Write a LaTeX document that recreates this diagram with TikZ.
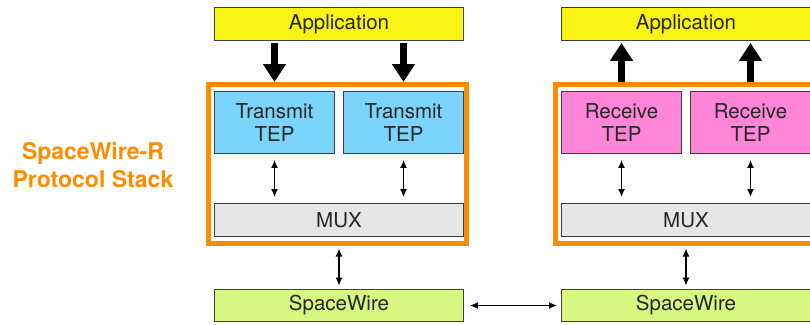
\documentclass[tikz,border=0pt]{standalone}
\usepackage{fontspec}
\setmainfont{TeX Gyre Heros}
\usetikzlibrary{arrows.meta}
\definecolor{appyellow}{RGB}{250,244,20}
\definecolor{txblue}{RGB}{122,212,252}
\definecolor{rxpink}{RGB}{255,134,214}
\definecolor{muxgray}{RGB}{230,230,230}
\definecolor{spwgreen}{RGB}{214,248,128}
\definecolor{swrorange}{RGB}{255,140,0}
\begin{document}
\begin{tikzpicture}[x=1pt,y=-1pt,
  box/.style={draw=black!75,line width=1.3pt,inner sep=0pt,align=center,text=black!85,font=\fontsize{20.5}{23.5}\selectfont},
  wide/.style={box,minimum width=248.5pt,minimum height=32.5pt},
  tep/.style={box,minimum width=119.5pt,minimum height=61.5pt},
  stack/.style={draw=swrorange,line width=5pt,inner sep=0pt,minimum width=258pt,minimum height=158.5pt},
  fat/.style={line width=7pt,-{Triangle[width=22pt,length=18pt]}},
  link/.style={line width=1.4pt,{Latex[length=8pt,width=7pt]}-{Latex[length=8pt,width=7pt]}}]
\useasboundingbox (0,0) rectangle (810,324);
\clip (0,0) rectangle (810,324);
\node[text=swrorange,align=center,font=\fontsize{23}{28}\selectfont\bfseries] (lbl) at (93,165) {SpaceWire-R\\Protocol Stack};
\node[stack] (frmL) at (337.5,163.75) {};
\node[stack] (frmR) at (684.5,163.75) {};
\node[wide,fill=appyellow] (appL) at (339,24) {Application};
\node[wide,fill=appyellow] (appR) at (686,24) {Application};
\node[tep,fill=txblue] (tepL1) at (274.5,122.5) {Transmit\\TEP};
\node[tep,fill=txblue] (tepL2) at (403.5,122.5) {Transmit\\TEP};
\node[tep,fill=rxpink] (tepR1) at (621.5,122.5) {Receive\\TEP};
\node[tep,fill=rxpink] (tepR2) at (750.5,122.5) {Receive\\TEP};
\node[wide,fill=muxgray] (muxL) at (339,220) {MUX};
\node[wide,fill=muxgray] (muxR) at (686,220) {MUX};
\node[wide,fill=spwgreen] (spwL) at (339,305.5) {SpaceWire};
\node[wide,fill=spwgreen] (spwR) at (686,305.5) {SpaceWire};
\draw[fat,shorten <=2pt] (appL.south -| tepL1.north) -- (frmL.north -| tepL1.north);
\draw[fat,shorten <=2pt] (appL.south -| tepL2.north) -- (frmL.north -| tepL2.north);
\draw[fat,shorten >=2pt] (frmR.north -| tepR1.north) -- (appR.south -| tepR1.north);
\draw[fat,shorten >=2pt] (frmR.north -| tepR2.north) -- (appR.south -| tepR2.north);
\draw[link,shorten <=6pt,shorten >=6pt] (tepL1.south) -- (tepL1.south |- muxL.north);
\draw[link,shorten <=6pt,shorten >=6pt] (tepL2.south) -- (tepL2.south |- muxL.north);
\draw[link,shorten <=6pt,shorten >=6pt] (tepR1.south) -- (tepR1.south |- muxR.north);
\draw[link,shorten <=6pt,shorten >=6pt] (tepR2.south) -- (tepR2.south |- muxR.north);
\draw[link,shorten <=3pt,shorten >=3pt] (muxL.south |- frmL.south) -- (spwL.north);
\draw[link,shorten <=3pt,shorten >=3pt] (muxR.south |- frmR.south) -- (spwR.north);
\draw[link,shorten <=6pt,shorten >=4pt] (spwL.east) -- (spwR.west);
\end{tikzpicture}
\end{document}
